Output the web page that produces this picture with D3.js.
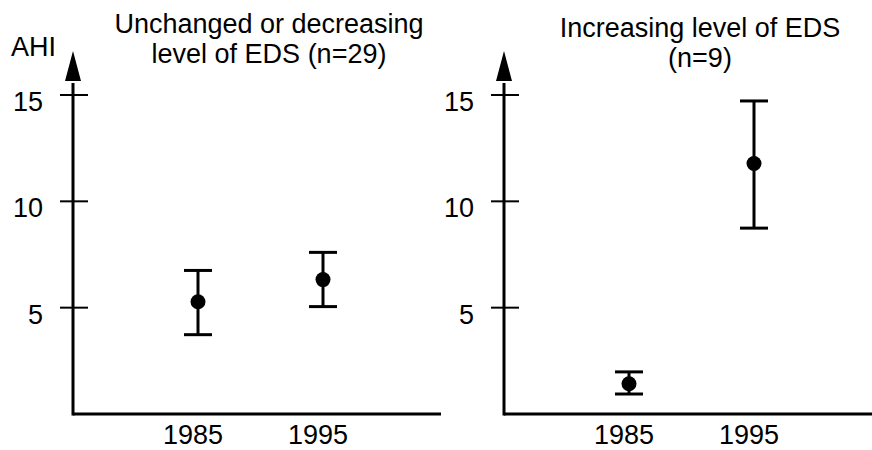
<!DOCTYPE html>
<html>
<head>
<meta charset="utf-8">
<script src="https://cdn.jsdelivr.net/npm/d3@7"></script>
<style>
  html, body { margin: 0; padding: 0; background: #fff; }
  svg { display: block; }
  text { font-family: "Liberation Sans", Arial, Helvetica, sans-serif; fill: #000; }
</style>
</head>
<body>
<svg id="chart" width="872" height="450"></svg>
<script>
// ---- data ----
const years = ["1985", "1995"];
const yTicks = [5, 10, 15];
const yLabel = "AHI";
const panelTitles = [
  ["Unchanged or decreasing", "level of EDS (n=29)"],
  ["Increasing level of EDS", "(n=9)"]
];
// group 1: unchanged or decreasing
const meanA  = [5.28, 6.32];
const lowerA = [3.73, 5.05];
const upperA = [6.75, 7.60];
// group 2: increasing
const meanB  = [1.42, 11.78];
const lowerB = [0.94, 8.74];
const upperB = [1.98, 14.72];

const svg = d3.select("#chart");

const panels = [
  { x0: 73,  x1: 441, mean: meanA, lower: lowerA, upper: upperA, title: panelTitles[0], titleX: 269, titleY: [33, 63], showYLabel: true },
  { x0: 504, x1: 872, mean: meanB, lower: lowerB, upper: upperB, title: panelTitles[1], titleX: 700, titleY: [37, 67], showYLabel: false }
];

const y = d3.scaleLinear().domain([0, 15]).range([414, 95]);

panels.forEach(p => {
  const g = svg.append("g");
  const x = d3.scaleLinear().domain([0, 3]).range([p.x0, p.x0 + 375]);

  // x axis line
  g.append("line")
    .attr("x1", p.x0).attr("x2", p.x1)
    .attr("y1", y(0)).attr("y2", y(0))
    .attr("stroke", "#000").attr("stroke-width", 3);

  // y axis line with arrow
  const tipY = y(15) - 44;
  const baseY = y(15) - 14;
  g.append("line")
    .attr("x1", p.x0).attr("x2", p.x0)
    .attr("y1", y(0) + 1.5).attr("y2", baseY + 2)
    .attr("stroke", "#000").attr("stroke-width", 3);
  g.append("path")
    .attr("d", `M${p.x0},${tipY} L${p.x0 + 8},${baseY} L${p.x0 - 8},${baseY} Z`)
    .attr("fill", "#000");

  // y ticks
  const ticks = g.selectAll(".tick").data(yTicks).enter().append("g");
  ticks.append("line")
    .attr("x1", p.x0 - 13).attr("x2", p.x0 + 15)
    .attr("y1", d => y(d)).attr("y2", d => y(d))
    .attr("stroke", "#000").attr("stroke-width", 2);
  ticks.append("text")
    .attr("x", p.x0 - 30)
    .attr("y", d => y(d) + 16)
    .attr("text-anchor", "end")
    .attr("font-size", 27)
    .text(d => d);

  // x labels
  g.selectAll(".xl").data(years).enter().append("text")
    .attr("x", (d, i) => x(i + 1) - 5)
    .attr("y", y(0) + 30)
    .attr("text-anchor", "middle")
    .attr("font-size", 27)
    .text(d => d);

  // error bars
  const eb = g.selectAll(".eb").data(years).enter().append("g");
  eb.append("line")
    .attr("x1", (d, i) => x(i + 1)).attr("x2", (d, i) => x(i + 1))
    .attr("y1", (d, i) => y(p.lower[i])).attr("y2", (d, i) => y(p.upper[i]))
    .attr("stroke", "#000").attr("stroke-width", 3);
  eb.append("line")
    .attr("x1", (d, i) => x(i + 1) - 14).attr("x2", (d, i) => x(i + 1) + 14)
    .attr("y1", (d, i) => y(p.upper[i])).attr("y2", (d, i) => y(p.upper[i]))
    .attr("stroke", "#000").attr("stroke-width", 3);
  eb.append("line")
    .attr("x1", (d, i) => x(i + 1) - 14).attr("x2", (d, i) => x(i + 1) + 14)
    .attr("y1", (d, i) => y(p.lower[i])).attr("y2", (d, i) => y(p.lower[i]))
    .attr("stroke", "#000").attr("stroke-width", 3);
  eb.append("circle")
    .attr("cx", (d, i) => x(i + 1))
    .attr("cy", (d, i) => y(p.mean[i]))
    .attr("r", 7.5)
    .attr("fill", "#000");

  // title
  p.title.forEach((t, k) => {
    g.append("text")
      .attr("x", p.titleX)
      .attr("y", p.titleY[k])
      .attr("text-anchor", "middle")
      .attr("font-size", 27)
      .text(t);
  });

  if (p.showYLabel) {
    g.append("text")
      .attr("x", 11)
      .attr("y", 56)
      .attr("font-size", 27)
      .text(yLabel);
  }
});
</script>
</body>
</html>
